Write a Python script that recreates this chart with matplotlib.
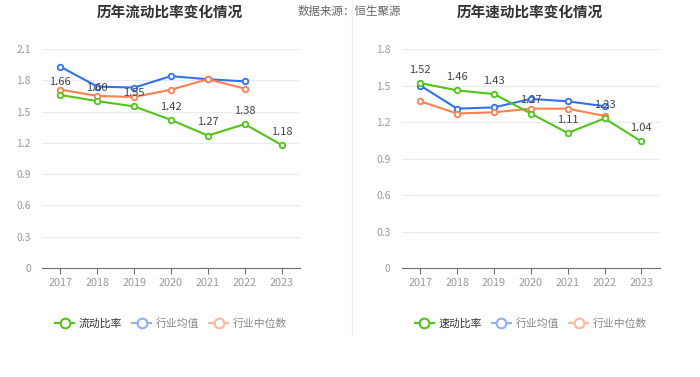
import matplotlib.pyplot as plt
from matplotlib.lines import Line2D

plt.rcParams['font.family'] = ['Noto Sans CJK SC', 'DejaVu Sans']

years = ['2017', '2018', '2019', '2020', '2021', '2022', '2023']

# 流动比率
current_ratio = [1.66, 1.60, 1.55, 1.42, 1.27, 1.38, 1.18]
current_ind_avg = [1.93, 1.74, 1.73, 1.84, 1.81, 1.79]
current_ind_med = [1.71, 1.65, 1.64, 1.71, 1.81, 1.72]

# 速动比率
quick_ratio = [1.52, 1.46, 1.43, 1.27, 1.11, 1.23, 1.04]
quick_ind_avg = [1.50, 1.31, 1.32, 1.39, 1.37, 1.33]
quick_ind_med = [1.37, 1.27, 1.28, 1.31, 1.31, 1.25]

left_ticks = [0, 0.3, 0.6, 0.9, 1.2, 1.5, 1.8, 2.1]
right_ticks = [0, 0.3, 0.6, 0.9, 1.2, 1.5, 1.8]

GREEN = '#52c41a'
BLUE = '#3370eb'
ORANGE = '#ff7f50'

fig = plt.figure(figsize=(7, 3.77), dpi=100)


def draw(ax, main, avg, med, ticks, name):
    x = list(range(len(years)))
    ax.plot(x[:len(avg)], avg, color=BLUE, lw=1.5, marker='o', ms=4,
            mfc='white', mec=BLUE, mew=1.3, zorder=3)
    ax.plot(x[:len(med)], med, color=ORANGE, lw=1.5, marker='o', ms=4,
            mfc='white', mec=ORANGE, mew=1.3, zorder=3)
    ax.plot(x, main, color=GREEN, lw=1.5, marker='o', ms=4,
            mfc='white', mec=GREEN, mew=1.3, zorder=4)
    for i, v in enumerate(main):
        ax.annotate(f'{v:.2f}', (i, v), xytext=(0, 6), textcoords='offset points',
                    ha='center', va='bottom', fontsize=8, color='#444444', zorder=5)
    ax.set_xlim(-0.5, 6.5)
    ax.set_ylim(0, ticks[-1])
    ax.set_yticks(ticks)
    ax.set_yticklabels([f'{t:g}' for t in ticks])
    ax.set_xticks(x)
    ax.set_xticklabels(years)
    ax.grid(axis='y', color='#e6ebf5', lw=0.8)
    ax.set_axisbelow(True)
    for s in ['top', 'right', 'left']:
        ax.spines[s].set_visible(False)
    ax.spines['bottom'].set_color('#6e7079')
    ax.tick_params(axis='y', length=0, labelsize=7.5, labelcolor='#999999', pad=8)
    ax.tick_params(axis='x', length=4, color='#6e7079', labelsize=7.8,
                   labelcolor='#999999')
    handles = [
        Line2D([0], [0], color=GREEN, lw=1.5, marker='o', ms=7, mfc='white', mec=GREEN, mew=1.5),
        Line2D([0], [0], color='#8fb0f5', lw=1.5, marker='o', ms=7, mfc='white', mec='#8fb0f5', mew=1.5),
        Line2D([0], [0], color='#ffb89e', lw=1.5, marker='o', ms=7, mfc='white', mec='#ffb89e', mew=1.5),
    ]
    leg = ax.legend(handles, [name, '行业均值', '行业中位数'], loc='upper center',
                    bbox_to_anchor=(0.5, -0.185), ncol=3, frameon=False, fontsize=7.8,
                    handlelength=1.8, handletextpad=0.4, columnspacing=0.9)
    for t, c in zip(leg.get_texts(), ['#333333', '#888888', '#888888']):
        t.set_color(c)


ax1 = fig.add_axes([0.06, 0.289, 0.3686, 0.581])
draw(ax1, current_ratio, current_ind_avg, current_ind_med, left_ticks, '流动比率')
ax2 = fig.add_axes([0.574, 0.289, 0.3686, 0.581])
draw(ax2, quick_ratio, quick_ind_avg, quick_ind_med, right_ticks, '速动比率')

fig.text(170 / 700, 1 - 12 / 377, '历年流动比率变化情况', ha='center', va='center',
         fontsize=10.5, fontweight='bold', color='#333333')
fig.text(530 / 700, 1 - 12 / 377, '历年速动比率变化情况', ha='center', va='center',
         fontsize=10.5, fontweight='bold', color='#333333')
fig.text(298 / 700, 1 - 12 / 377, '数据来源：恒生聚源', ha='left', va='center',
         fontsize=8.3, color='#666666')
fig.add_artist(Line2D([352 / 700, 352 / 700], [1 - 335 / 377, 1], color='#f0f0f0', lw=1))

fig.savefig('out.png', dpi=100, facecolor='white')
